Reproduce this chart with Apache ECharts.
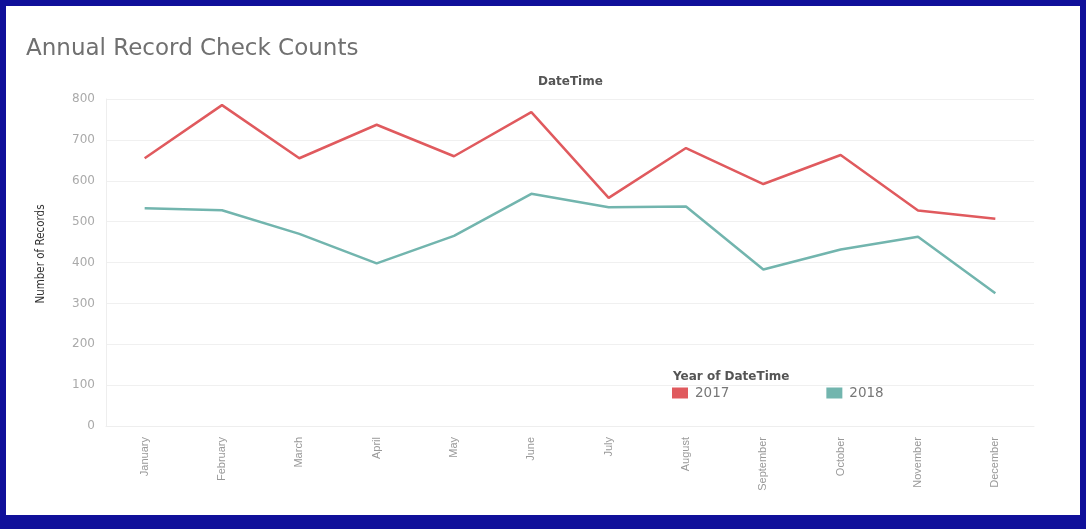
<!DOCTYPE html>
<html>
<head>
<meta charset="utf-8">
<script src="https://cdn.jsdelivr.net/npm/echarts@6/dist/echarts.min.js"></script>
<style>
  html, body { margin: 0; padding: 0; background: #10109a; width: 1086px; height: 529px; overflow: hidden; }
  #frame { position: absolute; left: 6px; top: 6px; width: 1074px; height: 509px; background: #ffffff; }
  #chart { position: absolute; left: 0; top: 0; width: 1086px; height: 529px; }
</style>
</head>
<body>
<div id="frame"></div>
<div id="chart"></div>
<script>
const months = ['January', 'February', 'March', 'April', 'May', 'June', 'July', 'August', 'September', 'October', 'November', 'December'];
const values2017 = [655, 785, 655, 737, 660, 768, 558, 680, 592, 663, 527, 507];
const values2018 = [533, 528, 470, 398, 465, 568, 535, 537, 383, 432, 463, 325];
const seriesNames = ['2017', '2018'];
const yAxisTitle = 'Number of Records';

const chart = echarts.init(document.getElementById('chart'), null, { renderer: 'canvas' });
chart.setOption({
  backgroundColor: 'transparent',
  animation: false,
  title: [
    {
      text: 'Annual Record Check Counts',
      left: 21, top: 33,
      textStyle: { fontFamily: 'DejaVu Sans', fontSize: 23, fontWeight: 'normal', color: '#707070' }
    },
    {
      text: 'DateTime',
      left: 533, top: 71,
      textStyle: { fontFamily: 'DejaVu Sans', fontSize: 12, fontWeight: 'bold', color: '#555' }
    },
    {
      text: 'Year of DateTime',
      left: 668, top: 366,
      textStyle: { fontFamily: 'DejaVu Sans', fontSize: 12, fontWeight: 'bold', color: '#555' }
    }
  ],
  graphic: [
    {
      type: 'text',
      x: 41, y: 254,
      rotation: Math.PI / 2,
      style: {
        text: yAxisTitle,
        fontFamily: "'DejaVu Sans Condensed', 'Liberation Sans Narrow', 'Liberation Sans', sans-serif",
        fontSize: 11.5,
        fill: '#333',
        align: 'center',
        verticalAlign: 'middle'
      }
    }
  ],
  legend: {
    left: 667, top: 381,
    icon: 'rect',
    itemWidth: 16, itemHeight: 11,
    itemGap: 97,
    data: seriesNames,
    textStyle: { fontFamily: 'DejaVu Sans', fontSize: 13.5, color: '#777', padding: [0, 0, 0, 2] }
  },
  grid: { left: 106, right: 52, top: 99, bottom: 103 },
  xAxis: {
    type: 'category',
    data: months,
    boundaryGap: true,
    axisLine: { show: true, lineStyle: { color: '#eeeeee' } },
    axisTick: { show: false },
    axisLabel: {
      rotate: 90, margin: 11, interval: 0,
      fontFamily: 'Liberation Sans', fontSize: 11, color: '#999'
    }
  },
  yAxis: {
    type: 'value',
    min: 0, max: 800, interval: 100,
    axisLine: { show: true, lineStyle: { color: '#eeeeee' } },
    axisTick: { show: false },
    axisLabel: { margin: 11, fontFamily: 'DejaVu Sans', fontSize: 12, color: '#aaa' },
    splitLine: { show: true, lineStyle: { color: '#f0f0f0' } }
  },
  series: [
    {
      name: seriesNames[0], type: 'line', data: values2017,
      symbol: 'none', color: '#e05a5e',
      lineStyle: { width: 2.5, color: '#e05a5e' }
    },
    {
      name: seriesNames[1], type: 'line', data: values2018,
      symbol: 'none', color: '#72b5ae',
      lineStyle: { width: 2.5, color: '#72b5ae' }
    }
  ]
});
</script>
</body>
</html>
